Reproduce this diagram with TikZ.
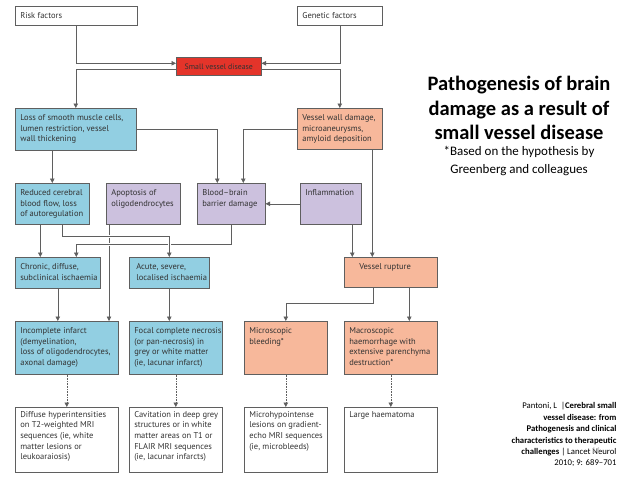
\documentclass[tikz,border=0pt]{standalone}
\usepackage{fontspec}
\setmainfont{Carlito}
\newfontfamily\boxfont{PT Sans}
\usetikzlibrary{arrows.meta}

\definecolor{boxblue}{RGB}{146,207,226}
\definecolor{boxlilac}{RGB}{204,193,222}
\definecolor{boxsalmon}{RGB}{247,184,155}
\definecolor{boxred}{RGB}{228,52,42}
\definecolor{linegray}{RGB}{95,95,95}
\definecolor{textgray}{RGB}{50,50,50}

% text of a box: [top padding] width, height, lines
\newcommand{\boxtext}[4][5pt]{%
    \begin{minipage}[c][#3pt][t]{#2pt}%
        \vspace*{#1}\hspace*{5pt}%
        \begin{tabular}[t]{@{}l@{}}#4\end{tabular}%
    \end{minipage}}

\begin{document}
\begin{tikzpicture}[x=1pt, y=-1pt]
            \tikzset{
                box/.style={draw=linegray, line width=0.6pt, inner sep=0pt, anchor=north west,
                    text=textgray, font=\boxfont\fontsize{8.5}{10.6}\selectfont},
                arc/.style={-{Triangle[length=4.5pt,width=4.5pt]}, draw=linegray, line width=0.6pt},
                dotarc/.style={arc, densely dotted},
                gap/.style={preaction={draw=white, -, line width=3pt, shorten <=2pt, shorten >=2pt}}
            }
            \useasboundingbox (0,0) rectangle (638,479);

            % top row
            \draw node[box] (risk) at (15,6) {\boxtext{122}{19}{Risk factors}};
            \draw node[box] (genetic) at (297,6) {\boxtext{85}{19}{Genetic factors}};
            \draw node[box, fill=boxred, minimum width=85, minimum height=18,
                font=\boxfont\fontsize{7.8}{10}\selectfont] (svd) at (176,57) {Small vessel disease};

            % vessel changes
            \draw node[box, fill=boxblue] (smooth) at (15,108)
                {\boxtext{121}{42}{Loss of smooth muscle cells,\\lumen restriction, vessel\\wall thickening}};
            \draw node[box, fill=boxsalmon] (wall) at (297,108)
                {\boxtext{85}{41}{Vessel wall damage,\\microaneurysms,\\amyloid deposition}};

            \draw node[box, fill=boxblue] (flow) at (15,183)
                {\boxtext{74}{41}{Reduced cerebral\\blood flow, loss\\of autoregulation}};
            \draw node[box, fill=boxlilac] (apop) at (106,183)
                {\boxtext{74}{41}{Apoptosis of\\oligodendrocytes}};
            \draw node[box, fill=boxlilac] (bbb) at (197,183)
                {\boxtext{68}{41}{Blood–brain\\barrier damage}};
            \draw node[box, fill=boxlilac] (inflam) at (300,183)
                {\boxtext{61}{41}{Inflammation}};

            \draw node[box, fill=boxblue] (chronic) at (15,257)
                {\boxtext{85}{31}{Chronic, diffuse,\\subclinical ischaemia}};
            \draw node[box, fill=boxblue] (acute) at (129,257)
                {\boxtext{80}{31}{\hspace*{2pt}Acute, severe,\\\hspace*{2pt}localised ischaemia}};
            \draw node[box, fill=boxsalmon] (rupture) at (344,257)
                {\boxtext{93}{30}{\hspace*{10pt}Vessel rupture}};

            % damage
            \draw node[box, fill=boxblue] (incompl) at (15,321)
                {\boxtext{103}{53}{Incomplete infarct\\(demyelination,\\loss of oligodendrocytes,\\axonal damage)}};
            \draw node[box, fill=boxblue] (focal) at (129,321)
                {\boxtext{93}{53}{Focal complete necrosis\\(or pan-necrosis) in\\grey or white matter\\(ie, lacunar infarct)}};
            \draw node[box, fill=boxsalmon] (micro) at (244,321)
                {\boxtext{83}{53}{Microscopic\\bleeding*}};
            \draw node[box, fill=boxsalmon] (macro) at (344,321)
                {\boxtext{93}{53}{Macroscopic\\haemorrhage with\\extensive parenchyma\\destruction*}};

            % imaging
            \draw node[box] (diffuse) at (15,407)
                {\boxtext[2.5pt]{103}{65}{Diffuse hyperintensities\\on T2-weighted MRI\\sequences (ie, white\\matter lesions or\\leukoaraiosis)}};
            \draw node[box] (cavit) at (129,407)
                {\boxtext[2.5pt]{93}{65}{Cavitation in deep grey\\structures or in white\\matter areas on T1 or\\FLAIR MRI sequences\\(ie, lacunar infarcts)}};
            \draw node[box] (microb) at (244,407)
                {\boxtext[2.5pt]{83}{65}{Microhypointense\\lesions on gradient-\\echo MRI sequences\\(ie, microbleeds)}};
            \draw node[box] (large) at (344,407)
                {\boxtext[2.5pt]{93}{65}{Large haematoma}};

            % title and source
            \node[align=center, anchor=north, font=\bfseries\fontsize{20.5}{24.5}\selectfont] (title) at (519,73)
                {Pathogenesis of brain\\damage as a result of\\small vessel disease};
            \node[align=center, anchor=north, font=\fontsize{13}{18}\selectfont] (hyp) at (519,143)
                {*Based on the hypothesis by\\Greenberg and colleagues};
            \node[align=right, anchor=north east, font=\fontsize{8.7}{11.4}\selectfont] (cite) at (620,399)
                {Pantoni, L~~|\textbf{Cerebral small}\\\textbf{vessel disease: from}\\\textbf{Pathogenesis and clinical}\\
                 \textbf{characteristics to therapeutic}\\\textbf{challenges} | Lancet Neurol\\2010; 9: 689–701};
            \node[text=black!25, font=\fontsize{9}{10}\selectfont] (slide) at (596,451) {11};

            % shifted connector ends
            \coordinate (apopX) at (109,0);
            \coordinate (flowL) at ([xshift=-12pt]flow.south);
            \coordinate (flowR) at ([xshift=10pt]flow.south);
            \coordinate (inflamX) at ([xshift=21.5pt]inflam.south);
            \coordinate (wallX) at ([xshift=32.5pt]wall.south);
            \coordinate (ruptL) at ([xshift=-17.5pt]rupture.south);
            \coordinate (ruptR) at ([xshift=18.5pt]rupture.south);

            \draw[arc] (risk.south) |- ([yshift=3pt]svd.west);
            \draw[arc] (genetic.south) |- ([yshift=3pt]svd.east);
            \draw[arc] ([yshift=-3pt]svd.west) -| (smooth.north);
            \draw[arc] ([yshift=-3pt]svd.east) -| (wall.north);
            \draw[arc] (smooth.east) -| ([xshift=-14pt]bbb.north);
            \draw[arc] (wall.west) -| ([xshift=12pt]bbb.north);
            \draw[arc] (inflam.west) -- (bbb.east);
            \draw[arc] (smooth.south -| flow.north) -- (flow.north);
            \draw[arc] (flowL) -- (flowL |- chronic.north);
            \draw[arc] (apop.south -| apopX) -- (apopX |- incompl.north);
            \draw[arc, gap] (bbb.south) -- ++(0,20) -| ([xshift=18.5pt]chronic.north);
            \draw[arc, gap] (flowR) -- ++(0,12) -| (acute.north);
            \draw[arc] (inflamX) -- (inflamX |- rupture.north);
            \draw[arc] (wallX) -- (wallX |- rupture.north);
            \draw[arc] (ruptL) -- ++(0,16) -| (micro.north);
            \draw[arc] (ruptR) -- (ruptR |- macro.north);

            \foreach \x/\y in {chronic/incompl, acute/focal}{
                \draw[arc] (\x.south) -- (\x.south |- \y.north);
            }
            \foreach \x/\y in {incompl/diffuse, focal/cavit, micro/microb, macro/large}{
                \draw[dotarc] (\x.south) -- (\y.north);
            }
\end{tikzpicture}
\end{document}
